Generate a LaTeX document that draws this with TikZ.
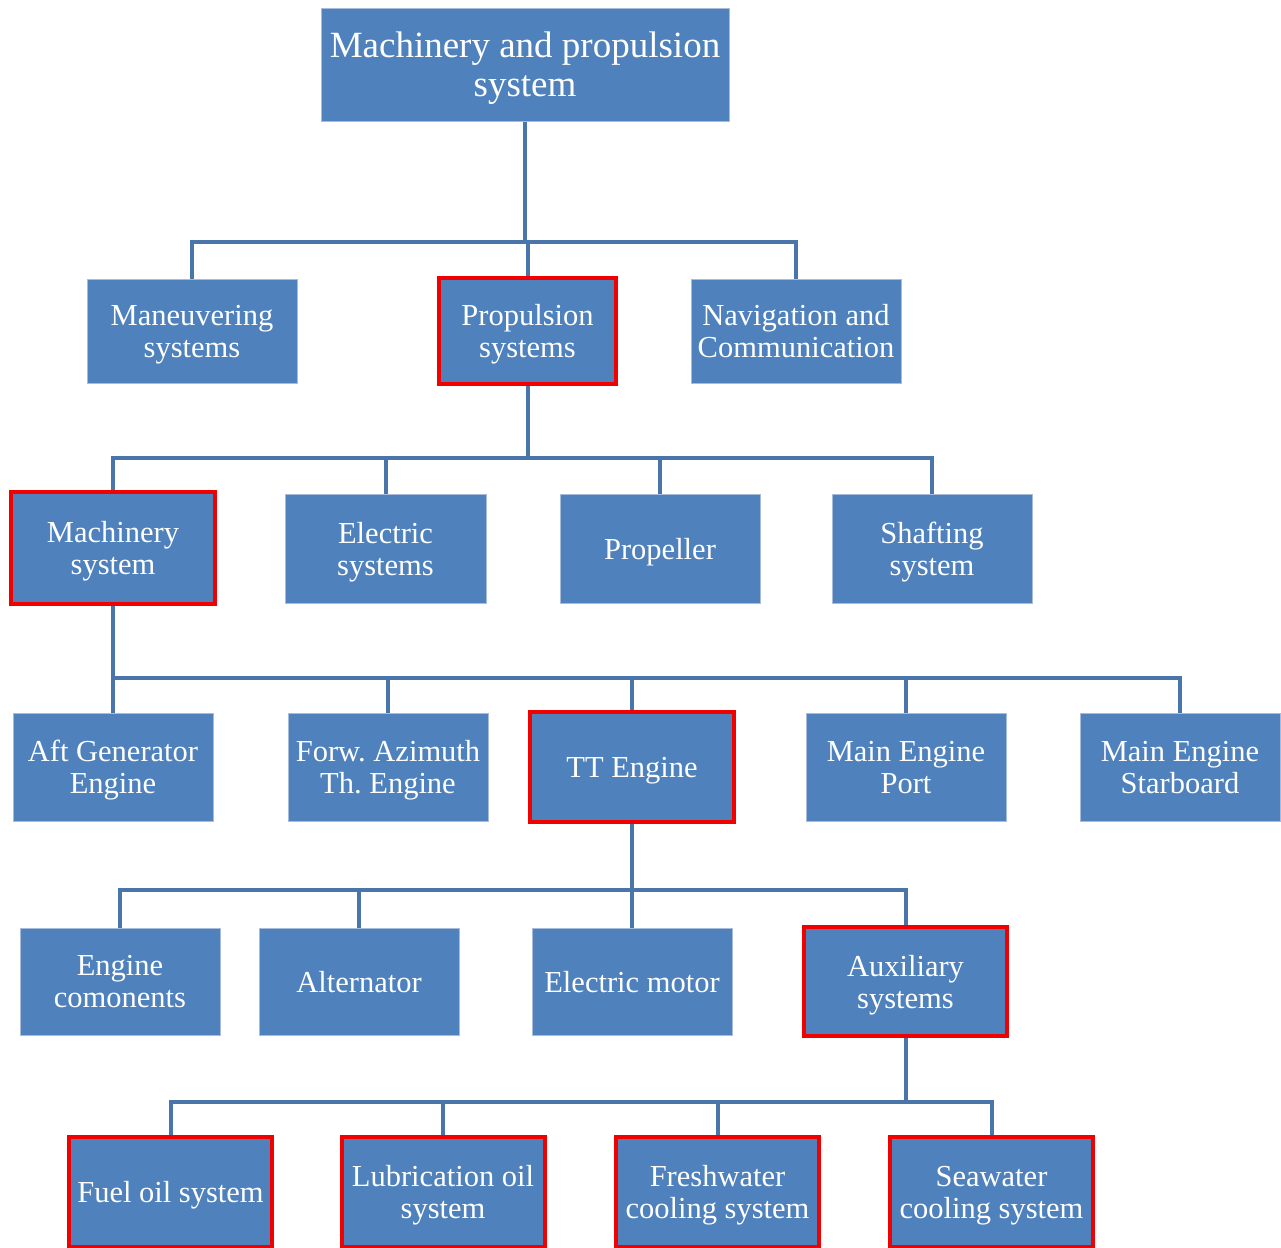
\documentclass[tikz,border=0pt]{standalone}
\usepackage{fontspec}
\setmainfont{Liberation Serif}
\usetikzlibrary{backgrounds}
\frenchspacing
\definecolor{boxfill}{HTML}{4F81BD}
\definecolor{boxedge}{HTML}{A7BCDC}
\definecolor{linkblue}{HTML}{4A75AB}
\definecolor{hilite}{HTML}{F20000}
\tikzset{
  unit/.style={fill=boxfill, draw=boxedge, line width=0.8pt, text=white,
    align=center, inner sep=0pt, text depth=0pt,
    font=\fontsize{30.5}{32}\selectfont},
  keyunit/.style={unit, draw=hilite, line width=4pt},
  link/.style={draw=linkblue, line width=4pt}
}
\begin{document}
\begin{tikzpicture}[x=1pt, y=-1pt]
\useasboundingbox (0,0) rectangle (1281,1247);

% level 0
\node[unit, minimum width=408pt, minimum height=113pt, font=\fontsize{37}{39}\selectfont]
  (root) at (525,64.5) {Machinery and propulsion\\system};

% level 1
\node[unit, minimum width=210pt, minimum height=104pt] (manv) at (192,331) {Maneuvering\\systems};
\node[keyunit, minimum width=177pt, minimum height=106pt] (prop) at (527.5,331) {Propulsion\\systems};
\node[unit, minimum width=210pt, minimum height=104pt] (navc) at (796,331) {Navigation and\\Communication};

% level 2
\node[keyunit, minimum width=204pt, minimum height=112pt] (mach) at (113,548) {Machinery\\system};
\node[unit, minimum width=201pt, minimum height=109pt] (elec) at (385.5,548.5) {Electric\\systems};
\node[unit, minimum width=200pt, minimum height=109pt] (prpl) at (660,548.5) {Propeller};
\node[unit, minimum width=200pt, minimum height=109pt] (shft) at (932,548.5) {Shafting\\system};

% level 3
\node[unit, minimum width=200pt, minimum height=108pt] (aftg) at (113,767) {Aft Generator\\Engine};
\node[unit, minimum width=200pt, minimum height=108pt] (forw) at (388,767) {Forw. Azimuth\\Th. Engine};
\node[keyunit, minimum width=204pt, minimum height=110pt] (tteng) at (632,767) {TT Engine};
\node[unit, minimum width=200pt, minimum height=108pt] (mport) at (906,767) {Main Engine\\Port};
\node[unit, minimum width=200pt, minimum height=108pt] (mstar) at (1180,767) {Main Engine\\Starboard};

% level 4
\node[unit, minimum width=200pt, minimum height=107pt] (engc) at (120,981.5) {Engine\\comonents};
\node[unit, minimum width=200pt, minimum height=107pt] (altr) at (359,981.5) {Alternator};
\node[unit, minimum width=200pt, minimum height=107pt] (emot) at (632,981.5) {Electric motor};
\node[keyunit, minimum width=203pt, minimum height=109pt] (auxs) at (905.5,981.5) {Auxiliary\\systems};

% level 5
\node[keyunit, minimum width=203pt, minimum height=110pt] (fuel) at (170.5,1192) {Fuel oil system};
\node[keyunit, minimum width=203pt, minimum height=110pt] (lube) at (443,1192) {Lubrication oil\\system};
\node[keyunit, minimum width=203pt, minimum height=110pt] (fwcs) at (717.5,1192) {Freshwater\\cooling system};
\node[keyunit, minimum width=203pt, minimum height=110pt] (swcs) at (991.5,1192) {Seawater\\cooling system};

% bus heights
\coordinate (busA) at (0,242);
\coordinate (busB) at (0,458);
\coordinate (busC) at (0,678);
\coordinate (busD) at (0,890);
\coordinate (busE) at (0,1102);

% connectors, kept behind the boxes
\begin{pgfonlayer}{background}
\path[link] (root.south) -- (root.south |- busA);
\path[link] (manv.north) -- (manv.north |- busA) -- (navc.north |- busA) -- (navc.north);
\path[link] (prop.north) -- (prop.north |- busA);

\path[link] (prop.south) -- (prop.south |- busB);
\path[link] (mach.north) -- (mach.north |- busB) -- (shft.north |- busB) -- (shft.north);
\path[link] (elec.north) -- (elec.north |- busB);
\path[link] (prpl.north) -- (prpl.north |- busB);

\path[link] (mach.south) -- (aftg.north);
\path[link] (mach.south |- busC) -- (mstar.north |- busC) -- (mstar.north);
\path[link] (forw.north) -- (forw.north |- busC);
\path[link] (tteng.north) -- (tteng.north |- busC);
\path[link] (mport.north) -- (mport.north |- busC);

\path[link] (tteng.south) -- (emot.north);
\path[link] (engc.north) -- (engc.north |- busD) -- (auxs.north |- busD) -- (auxs.north);
\path[link] (altr.north) -- (altr.north |- busD);

\path[link] (auxs.south) -- (auxs.south |- busE);
\path[link] (fuel.north) -- (fuel.north |- busE) -- (swcs.north |- busE) -- (swcs.north);
\path[link] (lube.north) -- (lube.north |- busE);
\path[link] (fwcs.north) -- (fwcs.north |- busE);
\end{pgfonlayer}
\end{tikzpicture}
\end{document}
